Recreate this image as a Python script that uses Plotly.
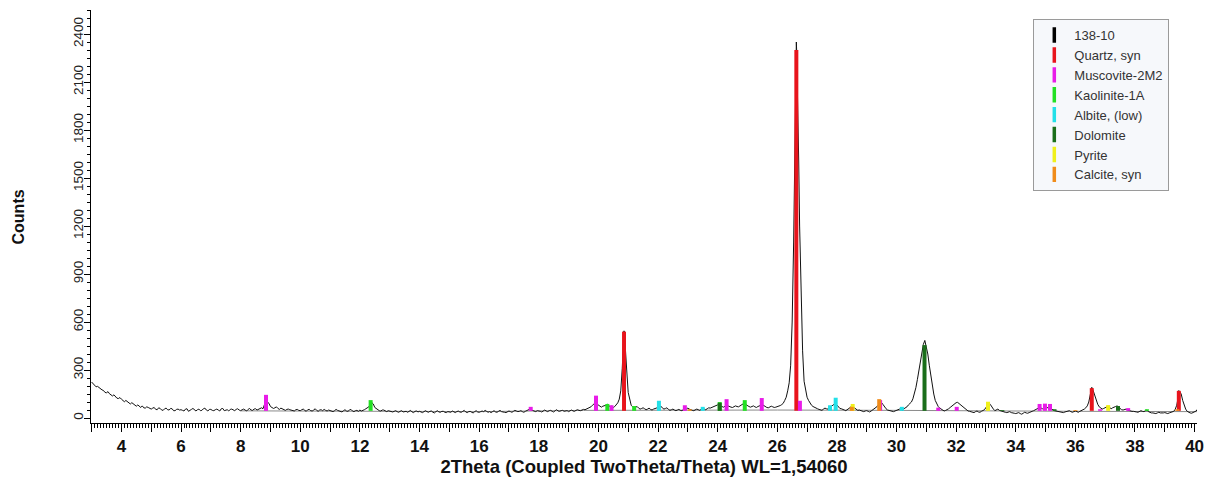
import plotly.graph_objects as go

# ---------------- data ----------------
# measured pattern "138-10": counts at 3.0, 3.1, ... 40.1 deg 2theta
GRID_START, GRID_STEP = 3.0, 0.1
COUNTS_GRID = [
    225, 205, 198, 180, 172, 158, 152, 138, 134, 122,   # 3
    118, 102, 104, 88, 90, 74, 72, 76, 62, 66,          # 4
    56, 66, 52, 60, 48, 62, 50, 58, 46, 56,             # 5
    52, 44, 58, 46, 60, 44, 56, 48, 62, 44,             # 6
    54, 46, 56, 44, 60, 48, 44, 56, 46, 58,             # 7
    46, 56, 44, 60, 48, 58, 54, 64, 80, 100,            # 8
    72, 60, 70, 54, 58, 48, 56, 50, 44, 54,             # 9
    46, 56, 42, 54, 44, 58, 42, 52, 54, 44,             # 10
    48, 40, 54, 44, 38, 52, 42, 54, 40, 48,             # 11
    50, 46, 58, 70, 96, 66, 52, 44, 50, 40,             # 12
    44, 38, 46, 36, 46, 40, 36, 48, 34, 44,             # 13
    42, 34, 46, 36, 44, 32, 46, 36, 42, 34,             # 14
    40, 44, 34, 44, 36, 48, 34, 42, 32, 46,             # 15
    36, 44, 48, 36, 34, 46, 36, 48, 40, 34,             # 16
    44, 36, 48, 40, 46, 36, 48, 56, 46, 40,             # 17
    46, 38, 50, 40, 48, 38, 52, 42, 48, 44,             # 18
    40, 50, 42, 52, 46, 54, 56, 64, 80, 96,             # 19
    82, 68, 76, 86, 70, 66, 82, 118, 310, 420,          # 20
    160, 80, 64, 72, 56, 64, 52, 62, 50, 58,            # 21
    66, 74, 56, 64, 48, 56, 46, 54, 46, 60,             # 22
    62, 50, 46, 56, 48, 60, 52, 64, 66, 74,             # 23
    82, 74, 68, 80, 70, 66, 76, 70, 82, 94,             # 24
    76, 68, 76, 66, 78, 84, 68, 64, 74, 66,             # 25
    70, 78, 92, 130, 220, 600, 2000, 1800, 800, 230,    # 26
    130, 92, 72, 60, 54, 48, 62, 56, 72, 88,            # 27
    82, 60, 56, 46, 60, 76, 58, 48, 48, 40,             # 28
    46, 38, 50, 62, 82, 96, 68, 50, 44, 40,             # 29
    48, 56, 50, 64, 82, 100, 150, 240, 360, 460,        # 30
    450, 330, 200, 110, 72, 56, 44, 52, 66, 82,         # 31
    96, 90, 74, 54, 44, 40, 34, 44, 36, 46,             # 32
    66, 96, 68, 46, 56, 44, 40, 34, 40, 30,             # 33
    28, 34, 24, 36, 30, 40, 46, 56, 66, 58,             # 34
    74, 60, 56, 46, 42, 36, 34, 42, 46, 36,             # 35
    44, 36, 46, 56, 76, 160, 170, 110, 70, 56,          # 36
    66, 74, 58, 70, 76, 56, 50, 56, 46, 42,             # 37
    42, 36, 46, 40, 50, 34, 32, 28, 36, 30,             # 38
    34, 28, 36, 42, 80, 165, 110, 56, 34, 30,           # 39
    38, 56,                                             # 40
]
# counts at the half steps 3.05, 3.15, ... 40.05
MID_START = 3.05
COUNTS_MID = [
    215, 195, 190, 176, 160, 165, 142, 145, 124, 128,   # 3
    108, 110, 94, 96, 80, 82, 66, 64, 70, 58,           # 4
    62, 54, 64, 50, 58, 52, 60, 46, 54, 50,             # 5
    48, 56, 42, 54, 50, 52, 46, 58, 50, 54,             # 6
    48, 52, 50, 58, 46, 52, 54, 48, 54, 50,             # 7
    52, 50, 54, 50, 56, 50, 62, 58, 96, 92,             # 8
    66, 64, 60, 62, 50, 54, 52, 46, 52, 48,             # 9
    52, 48, 52, 46, 50, 48, 50, 46, 48, 50,             # 10
    44, 46, 48, 40, 46, 44, 50, 44, 46, 42,             # 11
    44, 52, 62, 84, 88, 58, 46, 50, 42, 46,             # 12
    40, 42, 40, 42, 38, 42, 44, 38, 42, 38,             # 13
    38, 40, 40, 42, 36, 40, 38, 42, 36, 40,             # 14
    36, 38, 40, 38, 42, 38, 40, 36, 40, 38,             # 15
    40, 40, 42, 40, 40, 38, 42, 40, 36, 42,             # 16
    40, 42, 44, 42, 40, 42, 52, 50, 44, 46,             # 17
    42, 44, 44, 46, 42, 46, 44, 46, 42, 46,             # 18
    46, 44, 48, 48, 50, 52, 60, 70, 90, 88,             # 19
    76, 74, 80, 78, 74, 72, 95, 170, 500, 300,          # 20
    110, 70, 68, 62, 60, 58, 56, 54, 56, 62,            # 21
    70, 62, 60, 54, 52, 50, 50, 48, 52, 56,             # 22
    56, 48, 52, 52, 54, 56, 58, 62, 70, 76,             # 23
    78, 72, 74, 76, 68, 72, 72, 76, 88, 84,             # 24
    72, 72, 70, 72, 80, 76, 66, 70, 70, 68,             # 25
    74, 84, 110, 170, 330, 1100, 2300, 1200, 420, 170,  # 26
    110, 80, 66, 58, 50, 56, 58, 64, 80, 92,            # 27
    70, 58, 50, 52, 66, 68, 54, 50, 42, 44,             # 28
    42, 44, 56, 72, 90, 84, 58, 48, 42, 44,             # 29
    52, 54, 58, 70, 90, 120, 190, 300, 410, 485,        # 30
    400, 260, 150, 86, 62, 50, 48, 58, 74, 90,          # 31
    98, 84, 62, 48, 42, 36, 40, 38, 42, 52,             # 32
    82, 84, 56, 52, 48, 42, 36, 38, 34, 30,             # 33
    30, 28, 30, 32, 34, 42, 50, 62, 62, 66,             # 34
    66, 58, 50, 44, 38, 36, 38, 44, 40, 40,             # 35
    40, 42, 50, 64, 100, 192, 140, 86, 62, 60,          # 36
    70, 66, 64, 72, 66, 52, 54, 50, 44, 42,             # 37
    38, 40, 42, 46, 40, 32, 30, 32, 32, 32,             # 38
    30, 32, 38, 55, 130, 150, 80, 42, 32, 34,           # 39
    44,                                                 # 40
]
# extra read-offs at the tops of the sharp reflections
PEAK_X = [8.85, 12.38, 20.84, 20.86, 20.88, 20.92, 26.62, 26.64, 26.68, 26.72, 39.47]
PEAK_Y = [112, 100, 440, 545, 510, 380, 2250, 2350, 2050, 1600, 172]

# fitted background (grey line)
BACKGROUND_X = [8.0, 12.0, 16.0, 19.5, 22.0, 26.0, 30.0, 33.0, 36.0, 40.1]
BACKGROUND_Y = [45, 42, 40, 48, 50, 50, 48, 44, 42, 40]
STICK_BASE = 45

# reference phases: stick positions (deg 2theta) and stick tops (counts)
PHASES = ["Quartz, syn", "Muscovite-2M2", "Kaolinite-1A", "Albite, (low)",
          "Dolomite", "Pyrite", "Calcite, syn"]
PHASE_COLORS = ["#e8141c", "#e81ce8", "#22e022", "#22e0e8",
                "#1a6e1a", "#f0f01a", "#f08c1a"]
QUARTZ_X = [20.86, 26.64, 36.55, 39.47]
QUARTZ_Y = [540, 2300, 187, 170]
MUSCOVITE_X = [8.85, 17.73, 19.92, 20.44, 22.9, 24.3, 25.48, 26.76, 29.45,
               31.4, 32.02, 34.8, 34.98, 35.15, 36.83, 37.77]
MUSCOVITE_Y = [145, 70, 140, 80, 80, 118, 125, 108, 112,
               65, 70, 88, 90, 88, 55, 62]
KAOLINITE_X = [12.36, 20.3, 21.2, 24.07, 24.91, 38.4]
KAOLINITE_Y = [112, 88, 75, 100, 112, 55]
ALBITE_X = [22.03, 23.5, 27.77, 27.96, 30.18]
ALBITE_Y = [108, 70, 80, 127, 70]
DOLOMITE_X = [24.07, 30.94, 33.55, 35.3, 37.43]
DOLOMITE_Y = [95, 456, 50, 55, 75]
PYRITE_X = [28.53, 33.07, 37.1]
PYRITE_Y = [88, 102, 81]
CALCITE_X = [23.06, 28.5, 29.42, 36.0, 39.42]
CALCITE_Y = [55, 70, 118, 50, 55]
STICK_X = [QUARTZ_X, MUSCOVITE_X, KAOLINITE_X, ALBITE_X, DOLOMITE_X, PYRITE_X, CALCITE_X]
STICK_Y = [QUARTZ_Y, MUSCOVITE_Y, KAOLINITE_Y, ALBITE_Y, DOLOMITE_Y, PYRITE_Y, CALCITE_Y]

SAMPLE_NAME = "138-10"
X_TICKS = list(range(3, 41))
Y_TICKS = [0, 300, 600, 900, 1200, 1500, 1800, 2100, 2400]

# ---------------- build figure ----------------
pairs = {}
for i, v in enumerate(COUNTS_GRID):
    pairs[round(GRID_START + i * GRID_STEP, 3)] = v
for i, v in enumerate(COUNTS_MID):
    pairs[round(MID_START + i * GRID_STEP, 3)] = v
for px, py in zip(PEAK_X, PEAK_Y):
    pairs[round(px, 3)] = py
xs = sorted(pairs)
ys = [pairs[k] for k in xs]

fig = go.Figure()

fig.add_trace(go.Scatter(x=BACKGROUND_X, y=BACKGROUND_Y, mode="lines",
                         line=dict(color="#8a8a8a", width=1), showlegend=False,
                         hoverinfo="skip"))
fig.add_trace(go.Scatter(x=xs, y=ys, mode="lines",
                         line=dict(color="#111111", width=1), showlegend=False))

for name, col, sx, sy in zip(PHASES, PHASE_COLORS, STICK_X, STICK_Y):
    lx, ly = [], []
    for a, b in zip(sx, sy):
        lx += [a, a, None]
        ly += [STICK_BASE, b, None]
    fig.add_trace(go.Scatter(x=lx, y=ly, mode="lines",
                             line=dict(color=col, width=4), showlegend=False))

# legend entries (vertical bars)
for name, col in [(SAMPLE_NAME, "#000000")] + list(zip(PHASES, PHASE_COLORS)):
    fig.add_trace(go.Scatter(x=[None], y=[None], mode="markers", name=name,
                             marker=dict(symbol="line-ns", size=11, color=col,
                                         line=dict(color=col, width=3.5))))

fig.update_layout(
    width=1205, height=481,
    margin=dict(l=91, r=8, t=10, b=58, autoexpand=False),
    paper_bgcolor="white", plot_bgcolor="white",
    font=dict(family="Liberation Sans, Arial, sans-serif", color="#1a1a1a"),
    showlegend=True,
    legend=dict(x=0.852, y=0.978, xanchor="left", yanchor="top",
                bgcolor="#f6f8fb", bordercolor="#9a9a9a", borderwidth=1,
                font=dict(size=13, color="#333333"), tracegroupgap=0,
                itemsizing="trace"),
    annotations=[dict(text="<b>Counts</b>", xref="paper", yref="paper",
                      x=-0.0651, y=0.5, xanchor="center", yanchor="middle",
                      textangle=-90, showarrow=False,
                      font=dict(size=16, color="#111111"))],
)

fig.update_xaxes(
    range=[2.98, 40.08], showgrid=False, zeroline=False, automargin=False,
    showline=True, linecolor="black", linewidth=1,
    tickmode="array", tickvals=X_TICKS,
    ticktext=[str(t) if t % 2 == 0 else "" for t in X_TICKS],
    ticks="outside", ticklen=8, tickwidth=1, tickcolor="black",
    tickfont=dict(size=17, family="Liberation Sans, Arial", color="#111111",
                  weight="bold"),
    minor=dict(dtick=0.1, tick0=3, ticks="outside", ticklen=4, tickcolor="black", tickwidth=1),
    title=dict(text="<b>2Theta (Coupled TwoTheta/Theta) WL=1,54060</b>",
               font=dict(size=18.5, color="#111111"), standoff=4),
)
fig.update_yaxes(
    range=[-31, 2550], showgrid=False, zeroline=False, automargin=False,
    showline=True, linecolor="black", linewidth=1,
    tickmode="array", tickvals=Y_TICKS, tickangle=-90,
    ticks="outside", ticklen=6, tickwidth=1, tickcolor="black",
    ticklabelstandoff=-4,
    tickfont=dict(size=13.5, color="#222222"),
    minor=dict(dtick=50, tick0=0, ticks="outside", ticklen=3, tickcolor="black", tickwidth=1),
)

fig.write_html("out.html",
               config={"displayModeBar": False},
               post_script="document.body.style.margin='0px';"
                           "document.body.style.overflow='hidden';")
